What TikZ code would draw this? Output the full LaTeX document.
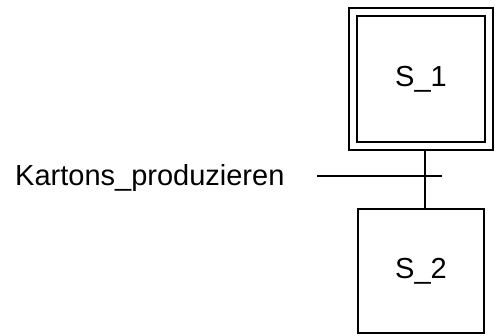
\documentclass[tikz,border=0pt]{standalone}
\usepackage{fontspec}
\setmainfont{Liberation Sans}
\begin{document}
\begin{tikzpicture}[x=1pt,y=-1pt,
  every node/.style={font=\fontsize{29}{33}\selectfont},
  stepbox/.style={draw=black, line width=2pt, inner sep=0pt, outer sep=0pt},
  initstep/.style={stepbox, double=white, double distance=6pt, outer sep=5pt},
  link/.style={draw=black, line width=2pt}]
\useasboundingbox (0,0) rectangle (498,336);
\node[initstep, minimum width=136pt, minimum height=134pt] (S1) at (421,79) {S\_1};
\node[stepbox, minimum width=126pt, minimum height=124pt] (S2) at (421,271) {S\_2};
\coordinate (tl) at (317,176);
\coordinate (tr) at (442,176);
\draw[link] ([xshift=4pt]S1.south) -- ([xshift=4pt]S2.north);
\draw[link] (tl) -- (tr);
\node[anchor=base west, inner sep=0pt] (lbl) at (15,186) {Kartons\_produzieren};
\end{tikzpicture}
\end{document}
